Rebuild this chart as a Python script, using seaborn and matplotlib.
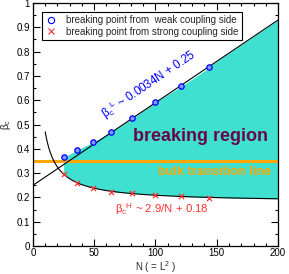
import numpy as np
import pandas as pd
import matplotlib
matplotlib.use("Agg")
import matplotlib.pyplot as plt
from matplotlib.lines import Line2D
from matplotlib.ticker import MultipleLocator, FormatStrFormatter
import seaborn as sns

# lattice sizes N = L^2 and measured breaking points
N_pts = [25, 36, 49, 64, 81, 100, 121, 144]
beta_weak = [0.365, 0.395, 0.427, 0.470, 0.525, 0.592, 0.657, 0.735]
beta_strong = [0.295, 0.260, 0.240, 0.224, 0.217, 0.211, 0.204, 0.199]

# fits
slope_L, icpt_L = 0.0034, 0.25
coef_H, icpt_H = 2.9, 0.18
beta_bulk = 0.35

x_ticks = [0, 50, 100, 150, 200]
y_ticks = [0, 0.1, 0.2, 0.3, 0.4, 0.5, 0.6, 0.7, 0.8, 0.9, 1]

TURQ = "#40E0D0"
MAROON = "#670748"
ORANGE = "#FFA500"

sns.set_theme(style="ticks")
plt.rcParams["font.family"] = ["Liberation Sans", "DejaVu Sans"]
plt.rcParams["mathtext.fontset"] = "custom"
plt.rcParams["mathtext.rm"] = "Liberation Sans"
plt.rcParams["mathtext.it"] = "Liberation Sans"

fig = plt.figure(figsize=(2.89, 2.74), dpi=100)
ax = fig.add_axes([0.114, 0.102, 0.848, 0.887])

# fit curves
n_line = np.linspace(0, 200, 201)
fit_L = slope_L * n_line + icpt_L
n_curve = np.linspace(10, 200, 400)
fit_H = coef_H / n_curve + icpt_H

# breaking region: data points first, fits beyond the last point
n_ext = np.linspace(N_pts[-1], 200, 60)[1:]
n_fill = np.concatenate([N_pts, n_ext])
up_fill = np.concatenate([beta_weak, slope_L * n_ext + icpt_L])
lo_fill = np.concatenate([beta_strong, coef_H / n_ext + icpt_H])
ax.fill_between(n_fill, lo_fill, up_fill, color=TURQ, lw=0, zorder=1)

ax.axhline(beta_bulk, color=ORANGE, lw=2.2, zorder=2)

df_L = pd.DataFrame({"N": n_line, "beta": fit_L})
df_H = pd.DataFrame({"N": n_curve, "beta": fit_H})
sns.lineplot(data=df_L, x="N", y="beta", color="black", lw=0.8, ax=ax, zorder=3)
sns.lineplot(data=df_H, x="N", y="beta", color="black", lw=0.8, ax=ax, zorder=3)

df_pts = pd.DataFrame({"N": N_pts, "weak": beta_weak, "strong": beta_strong})
sns.scatterplot(data=df_pts, x="N", y="weak", marker="o", s=15,
                facecolor="#7f9bff", edgecolor="blue", linewidth=0.9, ax=ax, zorder=4)
sns.scatterplot(data=df_pts, x="N", y="strong", marker="x", s=14,
                color="#ff3030", linewidth=0.9, ax=ax, zorder=4)

ax.set_xlim(0, 200)
ax.set_ylim(0, 1)
ax.set_xticks(x_ticks)
ax.set_yticks(y_ticks)
ax.yaxis.set_major_formatter(FormatStrFormatter("%g"))
ax.xaxis.set_minor_locator(MultipleLocator(10))
ax.yaxis.set_minor_locator(MultipleLocator(0.05))
ax.tick_params(which="both", direction="in", top=True, right=True,
               width=0.8, labelsize=7, pad=2, colors="black")
ax.tick_params(axis="x", which="major", pad=1.5)
ax.tick_params(which="major", length=5)
ax.tick_params(which="minor", length=2.5)
for sp in ax.spines.values():
    sp.set_linewidth(0.9)
    sp.set_color("black")

ax.set_xlabel(r"N ( = L$^2$ )", fontsize=7)
ax.xaxis.label.set_va("center")
ax.xaxis.set_label_coords(0.5, -0.085)
ax.set_ylabel(r"$\beta_c$", fontsize=7, labelpad=3)

ax.text(137, 0.45, "breaking region", color=MAROON, fontsize=13, fontweight="bold",
        ha="center", va="center", zorder=5)
ax.text(148, 0.306, "bulk transition line", color=ORANGE, fontsize=9.2, fontweight="bold",
        ha="center", va="center", zorder=5)
ax.text(61, 0.505, r"$\beta_c{}^L$ ~ 0.0034N + 0.25", color="blue", fontsize=8.4,
        rotation=np.degrees(np.arctan(slope_L)), transform_rotates_text=True,
        rotation_mode="anchor", ha="left", va="bottom", zorder=5)
ax.text(67, 0.135, r"$\beta_c{}^H$ ~ 2.9/N + 0.18", color="#ff3030", fontsize=8.2,
        ha="left", va="baseline", zorder=5)

handles = [
    Line2D([], [], ls="none", marker="o", ms=4.5, mfc="none", mec="blue", mew=0.8),
    Line2D([], [], ls="none", marker="x", ms=4, color="#ff3030", mew=0.8),
]
labels = ["breaking point from  weak coupling side",
          "breaking point from strong coupling side"]
leg = ax.legend(handles, labels, loc="upper left", bbox_to_anchor=(0.035, 0.965),
                fontsize=7, frameon=True, fancybox=False, framealpha=1,
                edgecolor="black", borderpad=0.35, labelspacing=0.2,
                handletextpad=1.0, handlelength=1.2, borderaxespad=0)
leg.get_frame().set_linewidth(0.8)

fig.savefig("out.png", dpi=100)
